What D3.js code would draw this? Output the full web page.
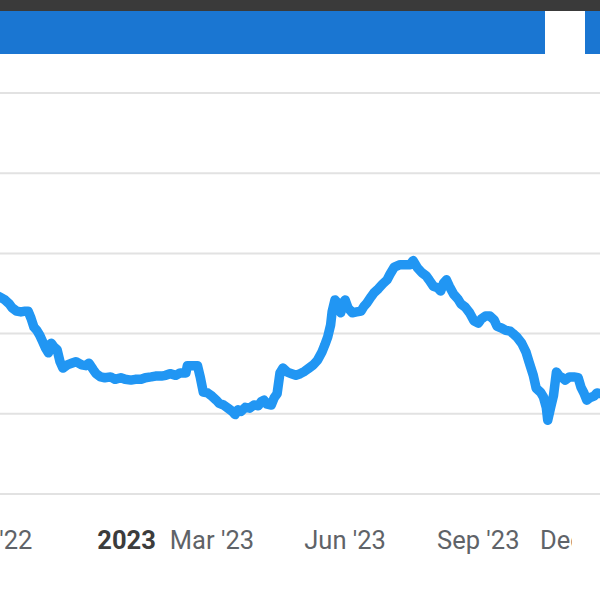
<!DOCTYPE html>
<html>
<head>
<meta charset="utf-8">
<script src="https://cdn.jsdelivr.net/npm/d3@7"></script>
<style>
  html, body { margin: 0; padding: 0; background: #fff; overflow: hidden; }
  svg { display: block; }
</style>
</head>
<body>
<svg id="chart" width="600" height="600"></svg>
<script>
// ---- data ----
const dates = [
  "2022-09-28","2022-10-05","2022-10-09","2022-10-12","2022-10-14","2022-10-17","2022-10-20","2022-10-23","2022-10-25","2022-10-27",
  "2022-10-29","2022-10-31","2022-11-02","2022-11-04","2022-11-06","2022-11-08","2022-11-10","2022-11-12","2022-11-14","2022-11-16",
  "2022-11-18","2022-11-21","2022-11-24","2022-11-27","2022-12-01","2022-12-04","2022-12-06","2022-12-09","2022-12-11","2022-12-14",
  "2022-12-17","2022-12-21","2022-12-24","2022-12-28","2022-12-31","2023-01-04","2023-01-07","2023-01-11","2023-01-14","2023-01-18",
  "2023-01-21","2023-01-25","2023-01-28","2023-01-31","2023-02-04","2023-02-07","2023-02-11","2023-02-12","2023-02-16","2023-02-19",
  "2023-02-21","2023-02-23","2023-02-26","2023-03-01","2023-03-04","2023-03-06","2023-03-09","2023-03-12","2023-03-15","2023-03-17",
  "2023-03-19","2023-03-21","2023-03-24","2023-03-27","2023-03-30","2023-04-02","2023-04-04","2023-04-06","2023-04-08","2023-04-11",
  "2023-04-13","2023-04-15","2023-04-17","2023-04-19","2023-04-22","2023-04-25","2023-04-28","2023-05-01","2023-05-04","2023-05-07",
  "2023-05-10","2023-05-13","2023-05-16","2023-05-18","2023-05-20","2023-05-22","2023-05-23","2023-05-25","2023-05-27","2023-05-29",
  "2023-05-30","2023-06-01","2023-06-03","2023-06-06","2023-06-09","2023-06-12","2023-06-14","2023-06-16","2023-06-19","2023-06-21",
  "2023-06-24","2023-06-27","2023-06-30","2023-07-02","2023-07-05","2023-07-09","2023-07-12","2023-07-16","2023-07-18","2023-07-21",
  "2023-07-24","2023-07-27","2023-07-29","2023-08-01","2023-08-04","2023-08-06","2023-08-08","2023-08-10","2023-08-12","2023-08-15",
  "2023-08-18","2023-08-20","2023-08-23","2023-08-26","2023-08-29","2023-09-01","2023-09-03","2023-09-06","2023-09-09","2023-09-12",
  "2023-09-14","2023-09-17","2023-09-20","2023-09-23","2023-09-25","2023-09-28","2023-10-01","2023-10-04","2023-10-06","2023-10-09",
  "2023-10-11","2023-10-14","2023-10-16","2023-10-18","2023-10-19","2023-10-21","2023-10-23","2023-10-25","2023-10-27","2023-10-29",
  "2023-10-31","2023-11-03","2023-11-06","2023-11-09","2023-11-11","2023-11-13","2023-11-15","2023-11-17","2023-11-20","2023-11-22",
  "2023-11-25"
];
const prices = [
  125.2,124.6,124.2,123.7,123.2,122.8,122.7,122.8,122.8,121.9,
  120.8,120.4,119.8,119.0,118.2,117.6,118.8,118.3,118.0,116.5,
  115.7,116.1,116.3,116.5,116.1,116.0,116.3,115.5,115.0,114.6,
  114.5,114.6,114.3,114.5,114.3,114.2,114.3,114.3,114.5,114.6,
  114.7,114.7,114.8,115.0,114.8,115.1,115.1,116.0,116.0,116.0,
  114.5,112.7,112.6,112.2,111.7,111.3,111.1,110.7,110.3,109.9,
  110.5,110.3,110.8,110.7,111.1,111.0,111.5,111.7,111.2,111.1,
  112.0,112.5,115.1,115.7,115.2,115.0,114.8,115.0,115.3,115.7,
  116.1,116.7,117.7,118.6,119.6,121.1,122.7,124.2,123.8,122.6,
  123.7,124.2,123.2,122.6,122.7,122.8,123.4,123.8,124.6,125.1,
  125.6,126.2,126.7,127.4,128.3,128.6,128.6,128.6,129.1,128.2,
  127.6,127.2,126.7,125.9,125.7,125.3,126.3,126.7,125.9,124.9,
  124.3,123.7,123.3,122.6,121.6,121.3,121.8,122.2,122.2,121.7,
  120.9,120.7,120.4,120.3,120.0,119.5,118.8,117.7,116.5,114.8,
  113.2,112.7,112.1,110.8,109.2,110.8,112.3,115.2,114.7,114.5,
  114.2,114.6,114.6,114.5,113.3,112.6,111.7,112.0,112.2,112.6,
  112.5
];
const gridValues = [100, 110, 120, 130, 140, 150];
const tickDates = ["2022-09-01", "2023-01-01", "2023-03-01", "2023-06-01", "2023-09-01", "2023-12-01"];
const tickLabels = ["Sep '22", "2023", "Mar '23", "Jun '23", "Sep '23", "Dec '23"];
const tickBold = [false, true, false, false, false, false];

// ---- chart ----
const parse = d3.timeParse("%Y-%m-%d");
const series = dates.map((d, i) => ({ date: parse(d), value: prices[i] }));

const svg = d3.select("#chart");
const W = 600;
const plotLeft = -50, plotRight = 623;

svg.append("defs").append("clipPath").attr("id", "labelClip")
  .append("rect").attr("x", 0).attr("y", 500).attr("width", 572).attr("height", 100);

// header bars
svg.append("rect").attr("x", 0).attr("y", 0).attr("width", W).attr("height", 11).attr("fill", "#3a3a3a");
svg.append("rect").attr("x", 0).attr("y", 11).attr("width", 545).attr("height", 43).attr("fill", "#1a76d2");
svg.append("rect").attr("x", 585).attr("y", 11).attr("width", 15).attr("height", 43).attr("fill", "#1a76d2");

const x = d3.scaleTime()
  .domain([parse("2022-09-01"), parse("2023-12-10")])
  .range([plotLeft, plotRight]);
const y = d3.scaleLinear().domain([100, 150]).range([494, 93]);

// gridlines
svg.append("g").selectAll("line").data(gridValues).join("line")
  .attr("x1", 0).attr("x2", W)
  .attr("y1", d => y(d)).attr("y2", d => y(d))
  .attr("stroke", "#e2e2e2").attr("stroke-width", 2);

// line
const line = d3.line().x(d => x(d.date)).y(d => y(d.value));
svg.append("path").datum(series)
  .attr("d", line)
  .attr("fill", "none")
  .attr("stroke", "#2196f3")
  .attr("stroke-width", 9.5)
  .attr("stroke-linejoin", "round")
  .attr("stroke-linecap", "round");

// x-axis labels (centered on tick, clamped within plot bounds)
const labelG = svg.append("g").attr("clip-path", "url(#labelClip)");
tickDates.forEach((td, i) => {
  const t = labelG.append("text")
    .attr("y", 549)
    .attr("font-family", "Roboto, 'Noto Sans', sans-serif")
    .attr("font-size", 25.5)
    .attr("font-weight", tickBold[i] ? 700 : 400)
    .attr("fill", tickBold[i] ? "#3c3c3c" : "#5f6368")
    .attr("text-anchor", "middle")
    .text(tickLabels[i]);
  const w = t.node().getComputedTextLength();
  let cx = x(parse(td));
  cx = Math.max(plotLeft + w / 2, Math.min(plotRight - w / 2, cx));
  t.attr("x", cx);
});
</script>
</body>
</html>
